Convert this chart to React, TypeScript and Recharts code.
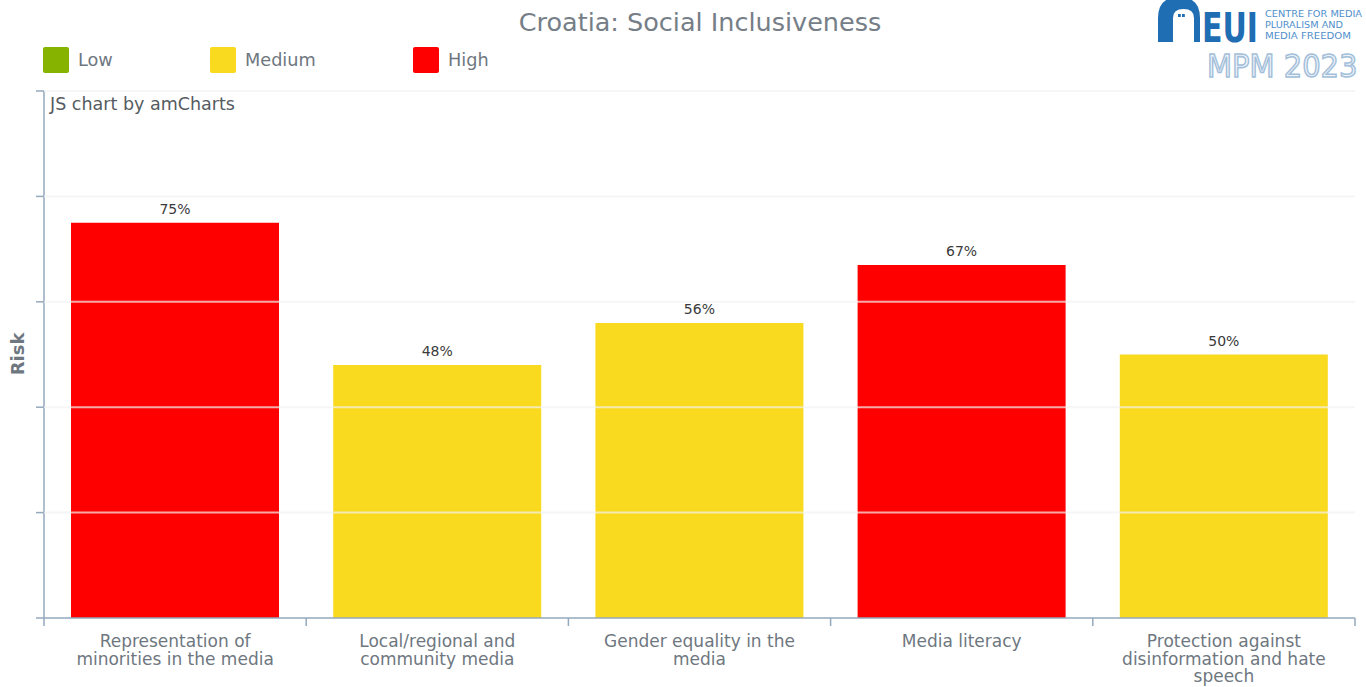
import React from 'react';
import { BarChart, Bar, XAxis, YAxis, Cell, LabelList, ReferenceLine } from 'recharts';

const categories = [
  'Representation of minorities in the media',
  'Local/regional and community media',
  'Gender equality in the media',
  'Media literacy',
  'Protection against disinformation and hate speech',
];
const riskValues = [75, 48, 56, 67, 50];
const riskLevels = ['High', 'Medium', 'Medium', 'High', 'Medium'];
const yTicks = [0, 20, 40, 60, 80, 100];
const legendItems = ['Low', 'Medium', 'High'];

const LEVEL_COLORS: Record<string, string> = {
  Low: '#86b300',
  Medium: '#f9da1e',
  High: '#ff0000',
};

const data = categories.map((name, i) => ({ name, value: riskValues[i], level: riskLevels[i] }));

const W = 1366;
const H = 687;
const M_TOP = 91;
const M_RIGHT = 11;
const Y_W = 44;
const X_H = 69;
const AXIS = '#93a9bd';
const TEXT = '#6e7780';
const FONT = '"DejaVu Sans", Verdana, sans-serif';
const BAND = (W - M_RIGHT - Y_W) / categories.length;

function wrap(s: string, max: number): string[] {
  const words = s.split(' ');
  const lines: string[] = [];
  let cur = '';
  for (const w of words) {
    const t = cur ? cur + ' ' + w : w;
    if (t.length > max && cur) {
      lines.push(cur);
      cur = w;
    } else cur = t;
  }
  if (cur) lines.push(cur);
  return lines;
}

const XTick = (props: any) => {
  const { x, y, payload, index } = props;
  const lines = wrap(String(payload.value), 23);
  return (
    <g>
      <line x1={x - BAND / 2} x2={x - BAND / 2} y1={y} y2={y + 8} stroke={AXIS} strokeWidth={1.5} />
      {index === categories.length - 1 && (
        <line x1={x + BAND / 2} x2={x + BAND / 2} y1={y} y2={y + 8} stroke={AXIS} strokeWidth={1.5} />
      )}
      {lines.map((l, i) => (
        <text key={i} x={x} y={y + 29 + i * 17.6} textAnchor="middle" fontSize={17} fill={TEXT} fontFamily={FONT}>
          {l}
        </text>
      ))}
    </g>
  );
};

const Logo = () => (
  <svg width={220} height={90} style={{ position: 'absolute', left: 1146, top: 0 }} viewBox="1146 0 220 90">
    <path d="M1158 42 L1158 18 Q1158 -3 1179 -3 Q1200 -3 1200 18 L1200 42 Z" fill="#1f6db3" />
    <path d="M1173 42 L1173 18 Q1173 9 1183.5 9 Q1194 9 1194 18 L1194 42 Z" fill="#ffffff" />
    <rect x={1178} y={14} width={2.8} height={3} fill="#1f6db3" />
    <rect x={1182} y={14} width={2.8} height={3} fill="#1f6db3" />
    <g transform="translate(1202 42) scale(1 1.35)">
      <text x={0} y={0} fontSize={30} fontWeight="bold" fill="#1f6db3" fontFamily={FONT}>
        EUI
      </text>
    </g>
    <g fontSize={9} fill="#4f8fcb" fontFamily='"DejaVu Sans Condensed", "DejaVu Sans", sans-serif'>
      <text x={1265} y={17} textLength={97} lengthAdjust="spacingAndGlyphs">CENTRE FOR MEDIA</text>
      <text x={1265} y={28} textLength={78} lengthAdjust="spacingAndGlyphs">PLURALISM AND</text>
      <text x={1265} y={39} textLength={86} lengthAdjust="spacingAndGlyphs">MEDIA FREEDOM</text>
    </g>
    <g transform="translate(1207 77) scale(1 1.1)">
      <text x={0} y={0} fontSize={29} fill="#eef3f9" stroke="#a3bfd9" strokeWidth={1.4} fontFamily={FONT}>
        MPM 2023
      </text>
    </g>
  </svg>
);

export default function App() {
  return (
    <div style={{ position: 'absolute', left: 0, top: 0, width: W, height: H, background: '#fff', fontFamily: FONT }}>
      <BarChart
        width={W}
        height={H}
        data={data}
        margin={{ top: M_TOP, right: M_RIGHT, bottom: 0, left: 0 }}
        barCategoryGap="10.3%"
      >
        <XAxis
          dataKey="name"
          height={X_H}
          interval={0}
          tickLine={false}
          tickSize={0}
          tickMargin={0}
          axisLine={{ stroke: AXIS, strokeWidth: 1.5 }}
          tick={<XTick />}
        />
        <YAxis
          width={Y_W}
          domain={[0, 100]}
          ticks={yTicks}
          interval={0}
          tickSize={8}
          tickFormatter={() => ''}
          tickLine={{ stroke: AXIS, strokeWidth: 1.5 }}
          axisLine={{ stroke: AXIS, strokeWidth: 1.5 }}
          label={{
            content: () => (
              <text x={24} y={354} transform="rotate(-90 24 354)" textAnchor="middle" fontSize={18} fontWeight="bold" fill={TEXT} fontFamily={FONT}>
                Risk
              </text>
            ),
          }}
        />
        <Bar dataKey="value" isAnimationActive={false}>
          {data.map((d, i) => (
            <Cell key={i} fill={LEVEL_COLORS[d.level]} />
          ))}
          <LabelList
            dataKey="value"
            position="top"
            offset={9}
            formatter={(v: any) => `${v}%`}
            fill="#3a3a3a"
            fontSize={14}
            fontFamily={FONT}
          />
        </Bar>
      </BarChart>

      <div style={{ position: 'absolute', left: 0, top: 0, pointerEvents: 'none' }}>
        <BarChart
          width={W}
          height={H}
          data={data}
          margin={{ top: M_TOP, right: M_RIGHT, bottom: 0, left: 0 }}
        >
          <XAxis dataKey="name" height={X_H} tick={false} tickLine={false} axisLine={false} />
          <YAxis width={Y_W} domain={[0, 100]} ticks={yTicks} tick={false} tickLine={false} axisLine={false} />
          <Bar dataKey="value" fill="transparent" fillOpacity={0} isAnimationActive={false} />
          {yTicks.slice(1).map((t) => (
            <ReferenceLine key={t} y={t} stroke="#f2f2f2" strokeOpacity={0.7} strokeWidth={2} />
          ))}
        </BarChart>
      </div>

      <div style={{ position: 'absolute', left: 0, width: 1400, top: 7, textAlign: 'center', fontSize: 25.5, color: '#767e87', fontFamily: FONT }}>
        Croatia: Social Inclusiveness
      </div>

      {legendItems.map((lv, i) => (
        <div key={lv} style={{ position: 'absolute', left: [43, 210, 413][i], top: 47, display: 'flex', alignItems: 'center', fontFamily: FONT }}>
          <div style={{ width: 26, height: 26, background: LEVEL_COLORS[lv], borderRadius: 2 }} />
          <span style={{ marginLeft: 9, fontSize: 17.7, color: TEXT }}>{lv}</span>
        </div>
      ))}

      <div style={{ position: 'absolute', left: 50, top: 94, fontSize: 17.5, color: '#555b61', fontFamily: FONT }}>
        JS chart by amCharts
      </div>

      <Logo />
    </div>
  );
}
